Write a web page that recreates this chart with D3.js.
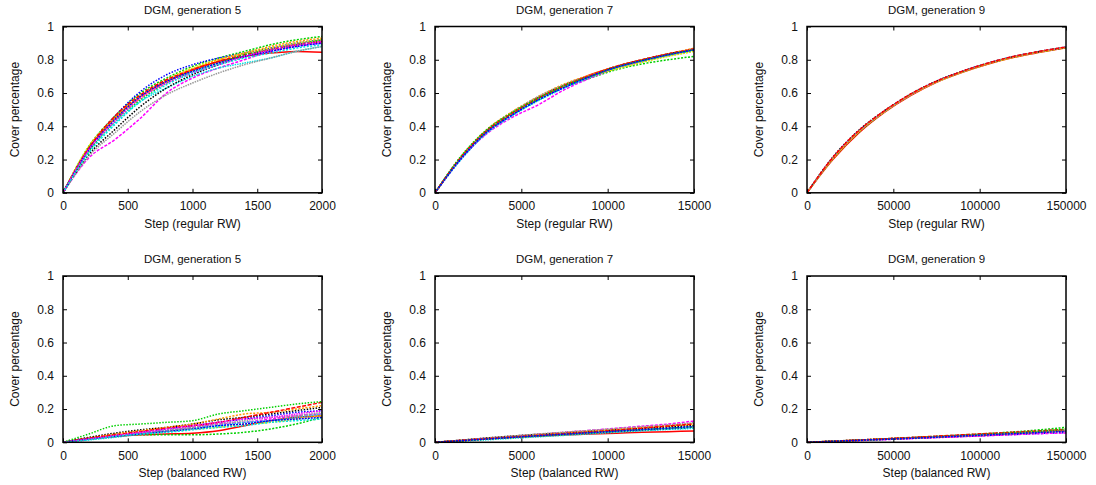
<!DOCTYPE html>
<html>
<head>
<meta charset="utf-8">
<script src="https://cdn.jsdelivr.net/npm/d3@7"></script>
<style>
  body { margin: 0; background: #fff; }
  svg { display: block; }
  text { font-family: "Liberation Sans", Arial, sans-serif; fill: #111; }
</style>
</head>
<body>
<svg id="chart" width="1096" height="485"></svg>
<script>
// step grids (x) for each generation
var stepsGen5 = [0, 200, 400, 600, 800, 1000, 1200, 1400, 1600, 1800, 2000];
var stepsGen7 = [0, 1500, 3000, 4500, 6000, 7500, 9000, 10500, 12000, 13500, 15000];
var stepsGen9 = [0, 15000, 30000, 45000, 60000, 75000, 90000, 105000, 120000, 135000, 150000];

var ticksGen5 = [0, 500, 1000, 1500, 2000];
var ticksGen7 = [0, 5000, 10000, 15000];
var ticksGen9 = [0, 50000, 100000, 150000];
var ticksCover = [0, 0.2, 0.4, 0.6, 0.8, 1];

var titles = ["DGM, generation 5", "DGM, generation 7", "DGM, generation 9"];
var xLabels = ["Step (regular RW)", "Step (balanced RW)"];
var yLabel = "Cover percentage";

// cover percentage per run, regular random walk
var coverGen5Regular = [
  [0, .27, .45, .58, .67, .74, .79, .82, .84, .85, .845],
  [0, .28, .46, .60, .69, .76, .81, .85, .89, .92, .94],
  [0, .27, .46, .61, .71, .77, .81, .84, .87, .90, .92],
  [0, .21, .32, .45, .60, .69, .75, .80, .85, .88, .90],
  [0, .25, .42, .55, .63, .70, .75, .78, .81, .85, .88],
  [0, .28, .45, .58, .68, .75, .80, .84, .87, .90, .92],
  [0, .23, .38, .52, .63, .71, .77, .82, .86, .89, .91],
  [0, .26, .44, .57, .67, .74, .80, .84, .88, .91, .93],
  [0, .22, .36, .49, .59, .66, .72, .77, .81, .85, .88],
  [0, .27, .46, .59, .68, .74, .79, .83, .86, .89, .91],
  [0, .25, .43, .56, .66, .73, .78, .83, .86, .89, .92],
  [0, .26, .44, .58, .67, .73, .78, .82, .85, .88, .90],
  [0, .26, .43, .57, .66, .72, .77, .82, .86, .89, .91],
  [0, .24, .41, .55, .65, .72, .77, .81, .84, .87, .89]
];
var coverGen7Regular = [
  [0, .21, .37, .48, .57, .645, .71, .76, .80, .835, .86],
  [0, .21, .365, .47, .56, .635, .69, .74, .775, .80, .82],
  [0, .20, .36, .47, .56, .635, .695, .75, .79, .825, .855],
  [0, .205, .355, .455, .53, .62, .69, .75, .79, .83, .86],
  [0, .20, .36, .465, .555, .63, .695, .75, .79, .825, .855],
  [0, .21, .37, .48, .57, .645, .70, .745, .785, .82, .85],
  [0, .21, .375, .485, .575, .65, .705, .76, .80, .835, .865],
  [0, .215, .38, .49, .58, .655, .71, .76, .80, .835, .87],
  [0, .21, .375, .485, .58, .65, .705, .755, .795, .83, .86],
  [0, .215, .375, .48, .57, .645, .705, .76, .80, .835, .865],
  [0, .22, .38, .485, .57, .645, .70, .755, .795, .83, .86],
  [0, .205, .365, .47, .56, .635, .70, .755, .795, .83, .86]
];
var coverGen9Regular = [
  [0, .20, .36, .485, .585, .665, .725, .775, .815, .845, .872],
  [0, .205, .365, .488, .59, .668, .728, .778, .818, .848, .874],
  [0, .21, .368, .49, .59, .67, .73, .78, .82, .85, .876],
  [0, .212, .372, .492, .592, .67, .73, .78, .82, .85, .875],
  [0, .208, .37, .49, .59, .668, .728, .78, .82, .85, .876],
  [0, .205, .366, .488, .588, .666, .726, .776, .816, .847, .872],
  [0, .215, .376, .495, .593, .672, .73, .779, .819, .849, .874],
  [0, .207, .368, .489, .589, .667, .727, .777, .817, .848, .873],
  [0, .21, .37, .49, .59, .669, .729, .779, .819, .849, .875],
  [0, .213, .374, .494, .594, .671, .731, .781, .821, .851, .877]
];

// cover percentage per run, balanced random walk
var coverGen5Balanced = [
  [0, .02, .035, .045, .05, .055, .07, .10, .13, .15, .16],
  [0, .025, .04, .045, .045, .045, .05, .06, .08, .11, .15],
  [0, .02, .04, .06, .08, .10, .12, .14, .16, .18, .19],
  [0, .02, .04, .055, .07, .09, .11, .12, .14, .16, .17],
  [0, .015, .03, .05, .07, .085, .10, .12, .13, .15, .17],
  [0, .02, .035, .05, .065, .08, .09, .11, .12, .14, .16],
  [0, .03, .055, .075, .09, .11, .135, .15, .17, .19, .21],
  [0, .025, .05, .07, .09, .11, .14, .17, .18, .20, .22],
  [0, .02, .04, .06, .075, .09, .11, .13, .15, .16, .18],
  [0, .025, .045, .065, .085, .10, .12, .15, .18, .21, .24],
  [0, .05, .10, .11, .12, .13, .17, .19, .21, .23, .245],
  [0, .02, .035, .05, .065, .08, .10, .11, .13, .14, .15],
  [0, .02, .04, .06, .08, .10, .12, .14, .15, .17, .19],
  [0, .015, .035, .05, .06, .075, .09, .10, .12, .13, .14]
];
var coverGen7Balanced = [
  [0, .01, .02, .029, .037, .044, .05, .055, .06, .064, .068],
  [0, .011, .022, .033, .043, .052, .061, .069, .077, .085, .092],
  [0, .009, .019, .029, .039, .048, .057, .065, .073, .08, .087],
  [0, .012, .024, .036, .048, .06, .072, .084, .097, .11, .128],
  [0, .007, .015, .024, .033, .042, .051, .06, .069, .077, .084],
  [0, .012, .024, .035, .045, .055, .065, .075, .085, .095, .105],
  [0, .013, .026, .038, .048, .057, .066, .075, .084, .093, .1],
  [0, .011, .023, .035, .047, .058, .068, .078, .089, .1, .112],
  [0, .013, .026, .038, .05, .061, .072, .083, .094, .105, .118],
  [0, .011, .022, .032, .042, .052, .062, .073, .085, .098, .11],
  [0, .009, .019, .029, .038, .047, .056, .065, .074, .083, .092],
  [0, .01, .02, .03, .04, .049, .058, .067, .076, .085, .095]
];
var coverGen9Balanced = [
  [0, .006, .012, .018, .024, .03, .036, .043, .051, .06, .07],
  [0, .007, .014, .021, .028, .036, .044, .053, .063, .075, .09],
  [0, .005, .011, .017, .023, .029, .035, .041, .047, .053, .058],
  [0, .005, .01, .016, .022, .028, .034, .04, .046, .052, .056],
  [0, .006, .012, .019, .026, .033, .04, .047, .054, .061, .068],
  [0, .006, .013, .02, .027, .034, .041, .048, .055, .062, .07],
  [0, .007, .014, .021, .028, .035, .042, .049, .056, .063, .072],
  [0, .006, .013, .019, .026, .033, .04, .047, .054, .061, .066],
  [0, .006, .012, .019, .026, .033, .04, .047, .055, .063, .072],
  [0, .007, .014, .021, .029, .037, .045, .053, .061, .069, .078],
  [0, .006, .012, .018, .025, .032, .04, .048, .057, .067, .08],
  [0, .006, .012, .018, .024, .031, .038, .045, .052, .059, .065]
];

// gnuplot-like line types
var lineColors = ["#ff0000", "#00d000", "#0000ff", "#ff00ff", "#00e0e0", "#e8e000", "#000000", "#ff9900", "#999999"];
var lineDashes = [null, "2,1.5", "1.5,1.5", "3,1.5", "1.5,1", "2,1", "1.5,1.5", "2,1.5", "1.5,1", "4,1.5", "1.5,1.5", "2,1", "1.5,1", "2,1.5"];

var svg = d3.select("#chart");

var colLeft = [63, 435, 807];
var plotW = 259;
var rowTop = [26.5, 276];
var plotH = 166.3;

var panels = [
  {col: 0, row: 0, steps: stepsGen5, ticks: ticksGen5, runs: coverGen5Regular, xl: 0},
  {col: 1, row: 0, steps: stepsGen7, ticks: ticksGen7, runs: coverGen7Regular, xl: 0},
  {col: 2, row: 0, steps: stepsGen9, ticks: ticksGen9, runs: coverGen9Regular, xl: 0},
  {col: 0, row: 1, steps: stepsGen5, ticks: ticksGen5, runs: coverGen5Balanced, xl: 1},
  {col: 1, row: 1, steps: stepsGen7, ticks: ticksGen7, runs: coverGen7Balanced, xl: 1},
  {col: 2, row: 1, steps: stepsGen9, ticks: ticksGen9, runs: coverGen9Balanced, xl: 1}
];

panels.forEach(function (p, pi) {
  var g = svg.append("g")
    .attr("transform", "translate(" + colLeft[p.col] + "," + rowTop[p.row] + ")");
  var x = d3.scaleLinear().domain([0, p.steps[p.steps.length - 1]]).range([0, plotW]);
  var y = d3.scaleLinear().domain([0, 1]).range([plotH, 0]);

  g.append("clipPath").attr("id", "clip" + pi)
    .append("rect").attr("width", plotW).attr("height", plotH);

  // runs
  var line = d3.line()
    .x(function (d, i) { return x(p.steps[i]); })
    .y(function (d) { return y(d); })
    .curve(d3.curveMonotoneX);
  g.append("g").attr("clip-path", "url(#clip" + pi + ")")
    .selectAll("path")
    .data(p.runs)
    .enter()
    .append("path")
    .attr("d", line)
    .attr("fill", "none")
    .attr("stroke", function (d, i) { return lineColors[i % lineColors.length]; })
    .attr("stroke-width", 1.5)
    .attr("stroke-dasharray", function (d, i) { return lineDashes[i % lineDashes.length]; });

  // axes, ticks inward and mirrored
  var fmtX = d3.format("d");
  g.append("g").attr("transform", "translate(0," + plotH + ")")
    .call(d3.axisBottom(x).tickValues(p.ticks).tickSize(-4).tickPadding(9).tickFormat(fmtX));
  g.append("g")
    .call(d3.axisTop(x).tickValues(p.ticks).tickSize(-4).tickFormat(""));
  g.append("g")
    .call(d3.axisLeft(y).tickValues(ticksCover).tickSize(-4).tickPadding(9).tickFormat(function (d) { return d3.format("")(d); }));
  g.append("g").attr("transform", "translate(" + plotW + ",0)")
    .call(d3.axisRight(y).tickValues(ticksCover).tickSize(-4).tickFormat(""));
  g.selectAll(".domain").remove();
  g.selectAll(".tick line").attr("stroke", "#000");
  g.selectAll(".tick text")
    .style("font-family", "'Liberation Sans', Arial, sans-serif")
    .style("font-size", "12px")
    .attr("fill", "#111");

  // frame
  g.append("rect")
    .attr("width", plotW).attr("height", plotH)
    .attr("fill", "none").attr("stroke", "#000").attr("stroke-width", 1.5);

  // labels
  g.append("text")
    .attr("x", plotW / 2).attr("y", -13)
    .attr("text-anchor", "middle")
    .style("font-size", "11.5px")
    .text(titles[p.col]);
  g.append("text")
    .attr("x", plotW / 2).attr("y", plotH + 35)
    .attr("text-anchor", "middle")
    .style("font-size", "12px")
    .text(xLabels[p.xl]);
  g.append("text")
    .attr("transform", "translate(-44," + (plotH / 2) + ") rotate(-90)")
    .attr("text-anchor", "middle")
    .style("font-size", "12px")
    .text(yLabel);
});
</script>
</body>
</html>
